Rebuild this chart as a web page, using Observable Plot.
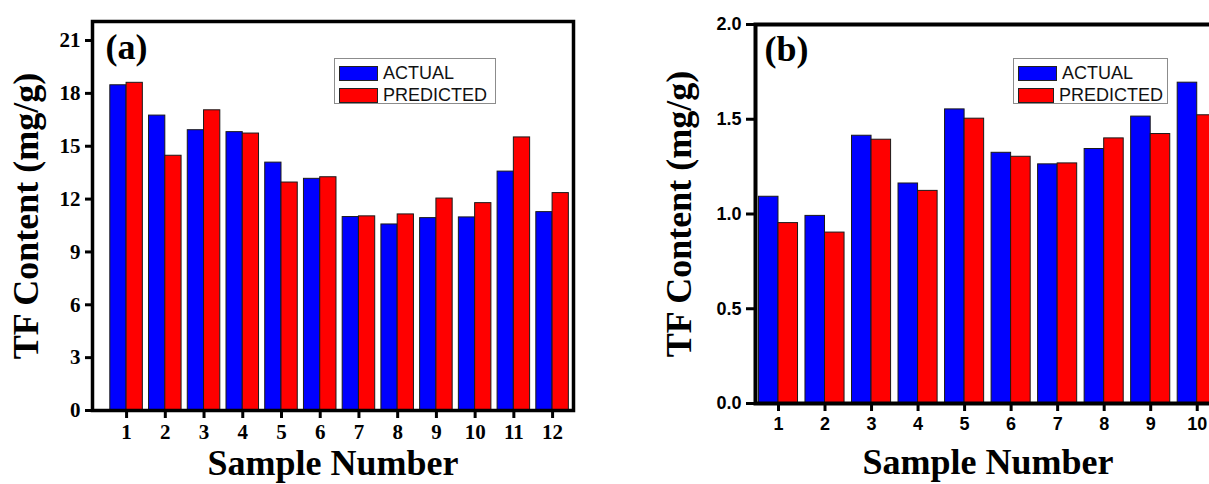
<!DOCTYPE html>
<html>
<head>
<meta charset="utf-8">
<script src="https://cdn.jsdelivr.net/npm/d3@7"></script>
<script src="https://cdn.jsdelivr.net/npm/@observablehq/plot@0.6"></script>
<style>
  html, body { margin: 0; padding: 0; background: #fff; }
  #wrap { position: relative; width: 1209px; height: 484px; overflow: hidden; background: #fff; }
  .panel { position: absolute; top: 0; height: 484px; }
  .panel svg { overflow: visible; max-width: none !important; height: 484px !important; }
  #panelA { left: 0; width: 600px; }
  #panelB { left: 620px; width: 620px; }
  #panelA svg { width: 600px !important; }
  #panelB svg { width: 620px !important; }
  .panel g[aria-label="y-axis label"] text,
  .panel g[aria-label="x-axis label"] text {
    font-family: "Liberation Serif", "Times New Roman", serif;
    font-weight: bold;
    font-size: 36px;
  }
  .legend {
    position: absolute; box-sizing: border-box;
    border: 1px solid #8c8c8c; background: #fff;
    font: 18px "Liberation Sans", Arial, sans-serif; color: #111;
    padding: 3px 4px;
  }
  .legend .row { display: flex; align-items: center; height: 22px; }
  .legend .sw { width: 39px; height: 15px; box-sizing: border-box; border: 1px solid #222; margin-right: 5px; }
  #legA { left: 334px; top: 58px; width: 162px; height: 46px; }
  #legB { left: 1013px; top: 58px; width: 155px; height: 46px; }
</style>
</head>
<body>
<div id="wrap">
  <div id="panelA" class="panel"></div>
  <div id="panelB" class="panel"></div>
  <div id="legA" class="legend"></div>
  <div id="legB" class="legend"></div>
</div>
<script>
// ---- data ----
const seriesNames = ["ACTUAL", "PREDICTED"];
const seriesColors = ["#0000ff", "#ff0000"];

const samplesA = [1, 2, 3, 4, 5, 6, 7, 8, 9, 10, 11, 12];
const actualA = [18.46, 16.74, 15.91, 15.80, 14.07, 13.15, 10.98, 10.56, 10.92, 10.96, 13.56, 11.26];
const predictedA = [18.60, 14.46, 17.04, 15.72, 12.94, 13.24, 11.02, 11.13, 12.03, 11.77, 15.50, 12.34];
const yTicksA = [0, 3, 6, 9, 12, 15, 18, 21];

const samplesB = [1, 2, 3, 4, 5, 6, 7, 8, 9, 10];
const actualB = [1.091, 0.990, 1.413, 1.161, 1.552, 1.323, 1.262, 1.343, 1.514, 1.693];
const predictedB = [0.952, 0.902, 1.392, 1.122, 1.503, 1.302, 1.267, 1.399, 1.422, 1.521];
const yTicksB = [0, 0.5, 1.0, 1.5, 2.0];

const panelLabelA = "(a)";
const panelLabelB = "(b)";
const yLabel = "TF Content (mg/g)";
const xLabel = "Sample Number";

// ---- build rows ----
function rows(samples, actual, predicted) {
  const out = [];
  samples.forEach((s, i) => {
    out.push({sample: s, series: seriesNames[0], value: actual[i]});
    out.push({sample: s, series: seriesNames[1], value: predicted[i]});
  });
  return out;
}
const rowsA = rows(samplesA, actualA, predictedA);
const rowsB = rows(samplesB, actualB, predictedB);

const barW = 0.42;
const x1 = d => d.series === seriesNames[0] ? d.sample - barW : d.sample;
const x2 = d => d.series === seriesNames[0] ? d.sample : d.sample + barW;

const serif = '"Liberation Serif", "Times New Roman", serif';
const sans = '"Liberation Sans", Arial, sans-serif';

const chartA = Plot.plot({
  width: 600, height: 484,
  marginLeft: 92, marginRight: 27, marginTop: 21, marginBottom: 74,
  x: {domain: [0.12, 12.54]},
  y: {domain: [0, 22.08]},
  color: {domain: seriesNames, range: seriesColors},
  style: {fontFamily: serif, fontSize: "21px", fontWeight: "bold", color: "#000", background: "transparent"},
  marks: [
    Plot.rectY(rowsA, {x1, x2, y: "value", fill: "series", stroke: "#1a1a1a", strokeWidth: 1}),
    Plot.frame({stroke: "#000", strokeWidth: 3.5}),
    Plot.axisY(yTicksA, {tickSize: 7, tickPadding: 5, strokeWidth: 3, tickFormat: d3.format("d"),
      label: yLabel, labelAnchor: "center", labelOffset: 80, labelArrow: "none"}),
    Plot.axisX(samplesA, {tickSize: 8, tickPadding: 6, strokeWidth: 3, tickFormat: d3.format("d"),
      label: xLabel, labelAnchor: "center", labelOffset: 64, labelArrow: "none"}),
    Plot.text([panelLabelA], {text: d => d, frameAnchor: "top-left", dx: 13, dy: 12,
      fontSize: 36, fontWeight: "bold", fontFamily: serif, textAnchor: "start", lineAnchor: "top"})
  ]
});
document.getElementById("panelA").appendChild(chartA);

const chartB = Plot.plot({
  width: 620, height: 484,
  marginLeft: 135, marginRight: 20, marginTop: 24, marginBottom: 81,
  x: {domain: [0.506, 10.5]},
  y: {domain: [0, 2]},
  color: {domain: seriesNames, range: seriesColors},
  style: {fontFamily: sans, fontSize: "18px", fontWeight: "bold", color: "#000", background: "transparent"},
  marks: [
    Plot.rectY(rowsB, {x1, x2, y: "value", fill: "series", stroke: "#1a1a1a", strokeWidth: 1}),
    Plot.frame({stroke: "#000", strokeWidth: 4}),
    Plot.axisY(yTicksB, {tickSize: 9, tickPadding: 5, strokeWidth: 3, tickFormat: d3.format(".1f"),
      label: yLabel, labelAnchor: "center", labelOffset: 90, labelArrow: "none"}),
    Plot.axisX(samplesB, {tickSize: 8, tickPadding: 6, strokeWidth: 3, tickFormat: d3.format("d"),
      label: xLabel, labelAnchor: "center", labelOffset: 70, labelArrow: "none"}),
    Plot.text([panelLabelB], {text: d => d, frameAnchor: "top-left", dx: 9, dy: 11,
      fontSize: 36, fontWeight: "bold", fontFamily: serif, textAnchor: "start", lineAnchor: "top"})
  ]
});
document.getElementById("panelB").appendChild(chartB);

// ---- legends ----
function buildLegend(el) {
  seriesNames.forEach((name, i) => {
    const row = document.createElement("div");
    row.className = "row";
    const sw = document.createElement("span");
    sw.className = "sw";
    sw.style.background = seriesColors[i];
    const t = document.createElement("span");
    t.textContent = name;
    row.appendChild(sw); row.appendChild(t);
    el.appendChild(row);
  });
}
buildLegend(document.getElementById("legA"));
buildLegend(document.getElementById("legB"));
</script>
</body>
</html>
